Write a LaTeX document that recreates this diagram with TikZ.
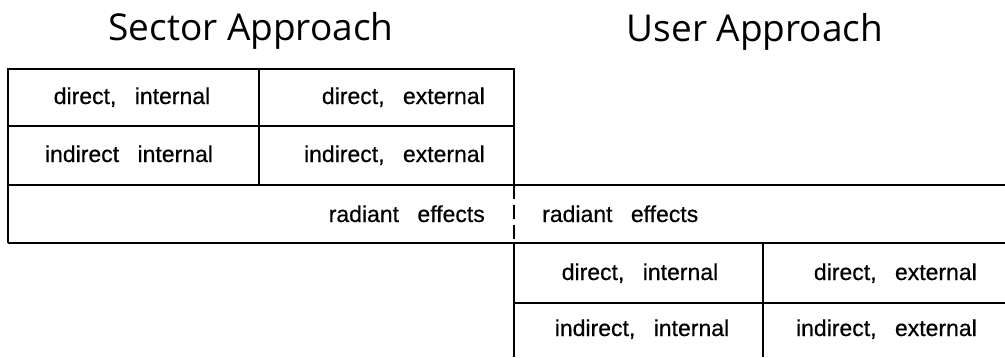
\documentclass[tikz,border=0pt]{standalone}
\usepackage{fontspec}
\setmainfont{Liberation Sans}
\newfontfamily\titlefont{Open Sans}
\newfontfamily\cellfont[FakeBold=0.5]{Liberation Sans}
\newcommand\tabtxt{\cellfont\fontsize{23}{27}\selectfont\spaceskip=0.8em\relax}
\begin{document}
\begin{tikzpicture}[x=1pt,y=-1pt,
  rule/.style={line width=1.3pt,black},
  brk/.style={line width=1.3pt,black,dash pattern=on 14pt off 6pt},
  cell/.style={inner sep=0pt,anchor=base,font=\tabtxt},
  cellr/.style={inner sep=0pt,anchor=base east,font=\tabtxt},
  celll/.style={inner sep=0pt,anchor=base west,font=\tabtxt},
  ttl/.style={inner sep=0pt,anchor=base,font=\titlefont\fontsize{37}{42}\selectfont}]
\useasboundingbox (0,0) rectangle (1005,357);
% coordinates
\coordinate (tl) at (8,69);
\coordinate (tr) at (514,69);
\coordinate (tm) at (259,69);
\coordinate (l1) at (8,126);
\coordinate (r1) at (514,126);
\coordinate (l2) at (8,185);
\coordinate (m2) at (259,185);
\coordinate (r2) at (514,185);
\coordinate (e2) at (1005,185);
\coordinate (l3) at (8,243);
\coordinate (r3) at (514,243);
\coordinate (e3) at (1005,243);
\coordinate (u4) at (514,303);
\coordinate (e4) at (1005,303);
\coordinate (ub) at (514,357);
\coordinate (um) at (763,243);
\coordinate (umb) at (763,357);
% titles
\node[ttl] (sector) at (251,40) {Sector Approach};
\node[ttl] (user) at (755,41) {User Approach};
% rules
\draw[rule] (l3) -- (l2) -- (l1) -- (tl) -- (tr) -- (r2);
\draw[rule] (l1) -- (r1);
\draw[rule] (l2) -- (e2);
\draw[rule] (l3) -- (e3);
\draw[rule] (tm) -- (m2);
\draw[brk] (r2) -- (r3);
\draw[rule] (r3) -- (ub);
\draw[rule] (u4) -- (e4);
\draw[rule] (um) -- (umb);
% texts
\node[cell] (a1) at (132,104) {direct, internal};
\node[cellr] (a2) at (485,104) {direct, external};
\node[cell] (b1) at (129,162) {indirect internal};
\node[cellr] (b2) at (485,162) {indirect, external};
\node[cellr] (c1) at (485,222) {radiant effects};
\node[celll] (c2) at (542,222) {radiant effects};
\node[cell] (d1) at (640,280) {direct, internal};
\node[cellr] (d2) at (977,280) {direct, external};
\node[cell] (f1) at (642,336) {indirect, internal};
\node[cellr] (f2) at (977,336) {indirect, external};
\end{tikzpicture}
\end{document}
